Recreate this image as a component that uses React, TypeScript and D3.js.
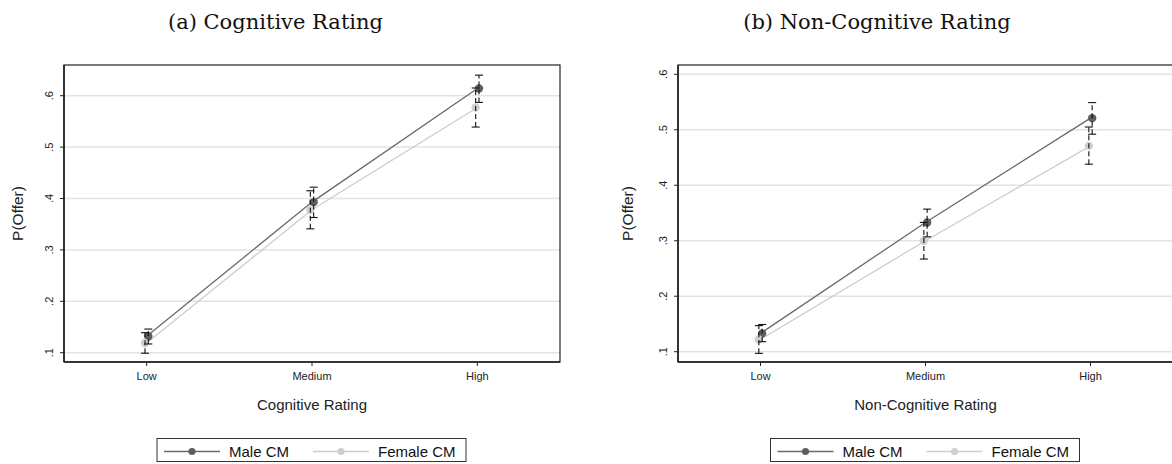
import * as d3 from "d3";

const categories = ["Low", "Medium", "High"];
const yTicks = [0.1, 0.2, 0.3, 0.4, 0.5, 0.6];

// panel (a): cognitive rating
const cogMale = [0.132, 0.393, 0.614];
const cogMaleLo = [0.117, 0.363, 0.587];
const cogMaleHi = [0.146, 0.422, 0.640];
const cogFemale = [0.119, 0.378, 0.577];
const cogFemaleLo = [0.099, 0.341, 0.539];
const cogFemaleHi = [0.139, 0.415, 0.615];

// panel (b): non-cognitive rating
const nonMale = [0.133, 0.333, 0.521];
const nonMaleLo = [0.118, 0.307, 0.492];
const nonMaleHi = [0.149, 0.357, 0.549];
const nonFemale = [0.122, 0.300, 0.471];
const nonFemaleLo = [0.097, 0.267, 0.438];
const nonFemaleHi = [0.147, 0.333, 0.505];

const seriesNames = ["Male CM", "Female CM"];
const seriesColors = ["#5e5e5e", "#cfcfcf"];
const lineColors = ["#6a6a6a", "#cdcdcd"];

type Series = { values: number[]; lo: number[]; hi: number[] };

type PanelProps = {
  title: string;
  titleX: number;
  xTitle: string;
  left: number;
  right: number;
  yLabelGap: number;
  gridTop: number;
  gridBottom: number;
  series: Series[];
};

const sans = "'Liberation Sans', Arial, sans-serif";

function Panel({ title, titleX, xTitle, left, right, yLabelGap, gridTop, gridBottom, series }: PanelProps) {
  const top = 65;
  const bottom = 362;
  const x = d3.scaleLinear().domain([0.5, 3.5]).range([left, right]);
  // y scale is set by the .1 and .6 gridlines
  const y = d3.scaleLinear().domain([0.1, 0.6]).range([gridBottom, gridTop]);
  const cx = (left + right) / 2;
  const offsets = [0.01, -0.01];
  const line = d3
    .line<number>()
    .x((_, i) => x(i + 1))
    .y((d) => y(d));

  return (
    <g>
      <text x={titleX} y={29} textAnchor="middle" fontFamily="'DejaVu Serif', serif" fontSize={21} fill="#111">
        {title}
      </text>
      {yTicks.map((t) => (
        <line key={t} x1={left} x2={right} y1={y(t)} y2={y(t)} stroke="#e3e3e3" strokeWidth={1.5} />
      ))}
      {/* frame */}
      <rect x={left} y={top} width={right - left} height={bottom - top} fill="none" stroke="#222" strokeWidth={1.2} />
      <line x1={left} x2={left} y1={top} y2={bottom} stroke="#222" strokeWidth={1.6} />
      <line x1={left} x2={right} y1={bottom} y2={bottom} stroke="#222" strokeWidth={1.6} />
      {yTicks.map((t) => (
        <g key={t}>
          <line x1={left - 4} x2={left} y1={y(t)} y2={y(t)} stroke="#222" strokeWidth={1} />
          <text
            transform={`translate(${left - 11},${y(t)}) rotate(-90)`}
            textAnchor="middle"
            fontFamily={sans}
            fontSize={11}
            fill="#222"
          >
            {d3.format(".1f")(t).replace(/^0/, "")}
          </text>
        </g>
      ))}
      <text
        transform={`translate(${left - yLabelGap},${(top + bottom) / 2}) rotate(-90)`}
        textAnchor="middle"
        fontFamily={sans}
        fontSize={15.5}
        fill="#222"
      >
        P(Offer)
      </text>
      {categories.map((c, i) => (
        <g key={c}>
          <line x1={x(i + 1)} x2={x(i + 1)} y1={bottom} y2={bottom + 4} stroke="#222" strokeWidth={1} />
          <text x={x(i + 1)} y={bottom + 18} textAnchor="middle" fontFamily={sans} fontSize={11} fill="#222">
            {c}
          </text>
        </g>
      ))}
      <text x={cx} y={bottom + 48} textAnchor="middle" fontFamily={sans} fontSize={15} fill="#222">
        {xTitle}
      </text>
      {/* lines and markers */}
      {series.map((s, k) => (
        <path key={k} d={line(s.values) ?? ""} fill="none" stroke={lineColors[k]} strokeWidth={1.3} />
      ))}
      {series.map((s, k) =>
        s.values.map((v, i) => (
          <circle key={`${k}-${i}`} cx={x(i + 1 + offsets[k])} cy={y(v)} r={4.2} fill={seriesColors[k]} />
        ))
      )}
      {/* confidence intervals */}
      {series.map((s, k) =>
        s.values.map((_, i) => {
          const px = x(i + 1 + offsets[k]);
          return (
            <g key={`ci-${k}-${i}`} stroke="#111" strokeWidth={1.1}>
              <line x1={px} x2={px} y1={y(s.lo[i])} y2={y(s.hi[i])} strokeDasharray="5 3" />
              <line x1={px - 4} x2={px + 4} y1={y(s.lo[i])} y2={y(s.lo[i])} />
              <line x1={px - 4} x2={px + 4} y1={y(s.hi[i])} y2={y(s.hi[i])} />
            </g>
          );
        })
      )}
      {/* legend */}
      <g>
        <rect x={cx - 155} y={438.5} width={309} height={23} fill="#fff" stroke="#333" strokeWidth={1} />
        {seriesNames.map((n, k) => {
          const lx = cx - 148 + k * 149;
          return (
            <g key={n}>
              <line x1={lx} x2={lx + 56} y1={451.5} y2={451.5} stroke={lineColors[k]} strokeWidth={1.3} />
              <circle cx={lx + 28} cy={451.5} r={3.6} fill={seriesColors[k]} />
              <text x={lx + 65} y={457} fontFamily={sans} fontSize={15} fill="#111">
                {n}
              </text>
            </g>
          );
        })}
      </g>
    </g>
  );
}

export default function App() {
  const cogSeries: Series[] = [
    { values: cogMale, lo: cogMaleLo, hi: cogMaleHi },
    { values: cogFemale, lo: cogFemaleLo, hi: cogFemaleHi },
  ];
  const nonSeries: Series[] = [
    { values: nonMale, lo: nonMaleLo, hi: nonMaleHi },
    { values: nonFemale, lo: nonFemaleLo, hi: nonFemaleHi },
  ];
  return (
    <svg
      width={1172}
      height={464}
      style={{ position: "absolute", left: 0, top: 0, background: "#fff" }}
    >
      <rect width={1172} height={464} fill="#fff" />
      <Panel
        title="(a) Cognitive Rating"
        titleX={275.5}
        xTitle="Cognitive Rating"
        left={64}
        right={560}
        yLabelGap={41}
        gridTop={95.7}
        gridBottom={352.7}
        series={cogSeries}
      />
      <Panel
        title="(b) Non-Cognitive Rating"
        titleX={877}
        xTitle="Non-Cognitive Rating"
        left={678}
        right={1173}
        yLabelGap={45}
        gridTop={74.3}
        gridBottom={351.7}
        series={nonSeries}
      />
    </svg>
  );
}
